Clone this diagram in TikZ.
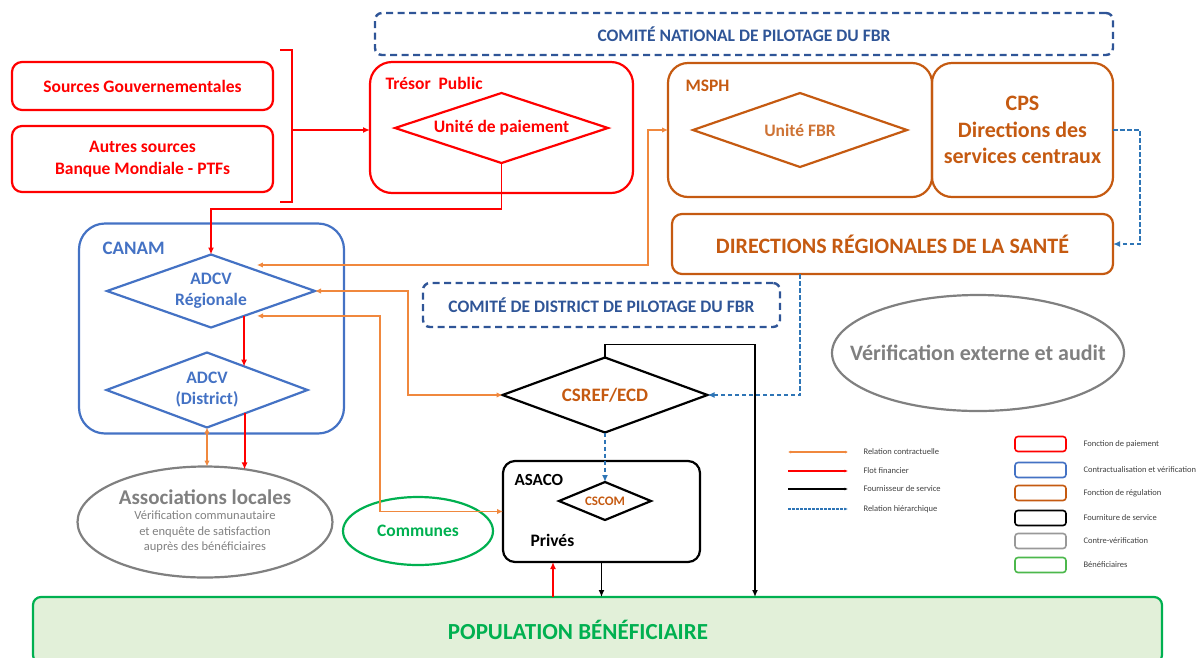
\documentclass[tikz,border=0pt]{standalone}
\usepackage{fontspec}
\setmainfont{Carlito}
\usepackage{tikz}
\usetikzlibrary{arrows.meta, positioning, shapes.geometric}

\definecolor{fred}{HTML}{FF0000}
\definecolor{fblue}{HTML}{4472C4}
\definecolor{fnavy}{HTML}{2F5597}
\definecolor{forg}{HTML}{C55A11}
\definecolor{fline}{HTML}{F0883E}
\definecolor{fhier}{HTML}{2E75B6}
\definecolor{fgray}{HTML}{808080}
\definecolor{fgreen}{HTML}{00B050}
\definecolor{fgfill}{HTML}{E2F0D9}

\newcommand{\fsz}[2]{\fontsize{#1}{#2}\selectfont}

\begin{document}
\begin{tikzpicture}[x=1pt, y=-1pt, font=\bfseries\fsz{17.5}{21},
    box/.style={draw, line width=2.2pt, rounded corners=10pt, outer sep=0pt, inner sep=2pt, align=center},
    redbox/.style={box, draw=fred, text=fred},
    bluebox/.style={box, draw=fblue, text=fblue},
    orgbox/.style={box, draw=forg, text=forg},
    blkbox/.style={box, draw=black},
    comite/.style={box, draw=fnavy, text=fnavy, line width=2.4pt, dash pattern=on 7pt off 4.5pt, rounded corners=7pt},
    dia/.style={diamond, draw, line width=2.2pt, outer sep=0pt, inner sep=0pt, align=center},
    oval/.style={ellipse, draw, line width=2.2pt, outer sep=0pt, inner sep=0pt, align=center},
    fin/.style={draw=fred, line width=1.9pt, -{Latex[length=7pt, width=6pt]}},
    contr/.style={draw=fline, line width=1.9pt, {Latex[length=6pt, width=5.5pt]}-{Latex[length=6pt, width=5.5pt]}},
    serv/.style={draw=black, line width=1.9pt, -{Latex[length=7pt, width=6pt]}},
    hier/.style={draw=fhier, line width=1.9pt, dash pattern=on 4.5pt off 2.5pt, -{Latex[length=7pt, width=6pt]}},
    legtxt/.style={anchor=west, font=\fsz{8.5}{10}, text=black!75},
    legbox/.style={box, line width=1.6pt, rounded corners=3pt, minimum width=51pt, minimum height=15pt}
]
\useasboundingbox (0,0) rectangle (1203,657);

% comites de pilotage
\node[comite, minimum width=738pt, minimum height=42pt] (cnp) at (744,34) {COMITÉ NATIONAL DE PILOTAGE DU FBR};
\node[comite, minimum width=357pt, minimum height=44pt] (cdp) at (601.5,305) {COMITÉ DE DISTRICT DE PILOTAGE DU FBR};

% sources de financement
\node[redbox, minimum width=261pt, minimum height=48pt] (gouv) at (142.5,86) {Sources Gouvernementales};
\node[redbox, minimum width=261pt, minimum height=66pt, font=\bfseries\fsz{17.5}{22}] (autres) at (142.5,159) {Autres sources\\Banque Mondiale - PTFs};
\draw[fred, line width=1.5pt] (280,50) -- (292,50) -- (292,202) -- (280,202);
\coordinate (brk) at (292,130);

% tresor public
\node[redbox, rounded corners=22pt, minimum width=263pt, minimum height=131pt] (tresor) at (501.5,127.5) {};
\node[anchor=west, text=fred] (tresorlbl) at (382,83) {Trésor~ Public};
\node[dia, draw=fred, text=fred, aspect=3, minimum width=213pt, minimum height=70pt] (paie) at (501.5,128) {Unité de paiement};

% ministere
\node[orgbox, rounded corners=20pt, minimum width=264pt, minimum height=134pt] (msph) at (800,130) {};
\node[anchor=west, text=forg] (msphlbl) at (682,86) {MSPH};
\node[dia, draw=forg, text=forg!85, aspect=3, minimum width=214pt, minimum height=74pt] (ufbr) at (800,130) {Unité FBR};
\node[orgbox, rounded corners=20pt, minimum width=181pt, minimum height=134pt, font=\bfseries\fsz{22}{26.5}] (cps) at (1022.5,130) {CPS\\Directions des\\services centraux};
\node[orgbox, minimum width=441pt, minimum height=60pt, font=\bfseries\fsz{22}{26}] (drs) at (892.5,244) {DIRECTIONS RÉGIONALES DE LA SANTÉ};

% CANAM
\node[bluebox, rounded corners=26pt, minimum width=265pt, minimum height=210pt] (canam) at (211.5,328.5) {};
\node[anchor=west, text=fblue, font=\bfseries\fsz{19}{22}] (canamlbl) at (99,248) {CANAM};
\node[dia, draw=fblue, text=fblue, aspect=2.9, minimum width=208pt, minimum height=73pt] (reg) at (211,291) {ADCV\\Régionale};
\node[dia, draw=fblue, text=fblue, aspect=2.9, minimum width=201pt, minimum height=75pt] (dis) at (207,390) {ADCV\\(District)};

% prestataires
\node[dia, draw=black, text=forg, aspect=2.7, minimum width=205pt, minimum height=75pt, font=\bfseries\fsz{19}{22}] (csref) at (605,395) {CSREF/ECD};
\node[blkbox, rounded corners=12pt, minimum width=197pt, minimum height=101pt] (asaco) at (601.5,511.5) {};
\node[anchor=west, font=\bfseries\fsz{17}{20}] (asacolbl) at (511,480) {ASACO};
\node[dia, draw=black, text=forg, aspect=2.4, minimum width=92pt, minimum height=38pt, font=\bfseries\fsz{13}{15}] (cscom) at (605,501) {CSCOM};
\node[anchor=west] (prives) at (527,540) {Privés};

% verification
\node[oval, draw=fgreen, text=fgreen, minimum width=150pt, minimum height=68pt] (communes) at (418,531) {Communes};
\node[oval, draw=fgray, minimum width=255pt, minimum height=111pt] (assoc) at (205,522) {};
\node[text=fgray, font=\bfseries\fsz{21}{24}] (assoctitle) at (205,497) {Associations locales};
\node[text=fgray, font=\fsz{12.5}{15.5}, align=center] (assocsub) at (205,532) {Vérification communautaire\\et enquête de satisfaction\\auprès des bénéficiaires};
\node[oval, draw=fgray, minimum width=292pt, minimum height=116pt] (verif) at (978,353) {};
\node[text=fgray, font=\bfseries\fsz{22}{26}] (veriftxt) at (verif) {Vérification externe et audit};

% beneficiaires
\node[box, draw=fgreen, fill=fgfill, rounded corners=8pt, minimum width=1129pt, minimum height=66pt] (pop) at (597.5,630) {};
\node[text=fgreen, font=\bfseries\fsz{23}{26}] (poptxt) at (578,630) {POPULATION BÉNÉFICIAIRE};

% flux financiers
\draw[fin] (brk) -- (brk -| tresor.west);
\draw[fin] (paie.south) -- ++(0,46) -| (reg.north);
\draw[fin] (reg.-37) -- (reg.-37 |- dis.32);
\draw[fin] (dis.-32) -- (dis.-32 |- assoc.52);
\coordinate (redpop) at ([xshift=-48.5pt]asaco.south);
\draw[fin] (redpop |- pop.north) -- (redpop);

% relations contractuelles
\draw[contr, shorten >=16pt] (msph.west) -- ++(-20,0) |- (reg.41);
\draw[contr] (reg.east) -- ++(93,0) |- (csref.west);
\draw[contr, shorten <=13pt] (reg.-37) -- ++(136,0) |- (asaco.west);
\draw[contr] (dis.south) -- (dis.south |- assoc.north);

% fournisseurs de service
\draw[serv] (asaco.south) -- (asaco.south |- pop.north);
\draw[serv] (csref.north) -- ++(0,-13) -| ([xshift=157.5pt]pop.north);

% relations hierarchiques
\draw[hier] (cps.east) -- ++(27,0) |- (drs.east);
\draw[hier] ([xshift=-92.5pt]drs.south) |- (csref.east);
\draw[hier] (csref.south) -- (cscom.north);

% legende
\node[legtxt] (lg1) at (860,452) {Relation contractuelle};
\node[legtxt] (lg2) at (860,471) {Flot financier};
\node[legtxt] (lg3) at (860,489) {Fournisseur de service};
\node[legtxt] (lg4) at (860,509) {Relation hiérarchique};
\draw[contr, line width=1.1pt, {Latex[length=3pt, width=3pt]}-{Latex[length=3pt, width=3pt]}] ([xshift=-72pt]lg1.west) -- ([xshift=-12pt]lg1.west);
\draw[fin, line width=1.1pt, -{Latex[length=3.5pt, width=3pt]}] ([xshift=-72pt]lg2.west) -- ([xshift=-12pt]lg2.west);
\draw[serv, line width=1.1pt, -{Latex[length=3.5pt, width=3pt]}] ([xshift=-72pt]lg3.west) -- ([xshift=-12pt]lg3.west);
\draw[hier, line width=1.1pt, dash pattern=on 2.5pt off 1.5pt, -{Latex[length=3.5pt, width=3pt]}] ([xshift=-72pt]lg4.west) -- ([xshift=-12pt]lg4.west);

\node[legbox, draw=fred] (lb1) at (1040.5,444) {};
\node[legbox, draw=fblue] (lb2) at (1040.5,470) {};
\node[legbox, draw=forg] (lb3) at (1040.5,493) {};
\node[legbox, draw=black] (lb4) at (1040.5,518) {};
\node[legbox, draw=black!40] (lb5) at (1040.5,541) {};
\node[legbox, draw=green!60!black!70] (lb6) at (1040.5,565) {};
\node[legtxt] (lt1) at (1080,444) {Fonction de paiement};
\node[legtxt] (lt2) at (1080,470) {Contractualisation et vérification};
\node[legtxt] (lt3) at (1080,493) {Fonction de régulation};
\node[legtxt] (lt4) at (1080,518) {Fourniture de service};
\node[legtxt] (lt5) at (1080,541) {Contre-vérification};
\node[legtxt] (lt6) at (1080,565) {Bénéficiaires};
\end{tikzpicture}
\end{document}
